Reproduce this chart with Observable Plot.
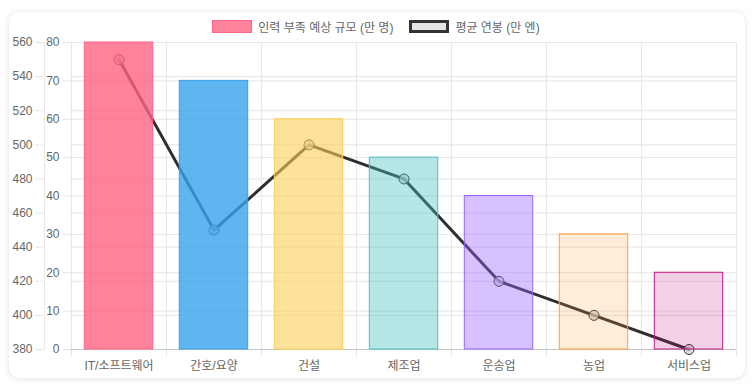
<!DOCTYPE html>
<html>
<head>
<meta charset="utf-8">
<script src="https://cdn.jsdelivr.net/npm/d3@7"></script>
<script src="https://cdn.jsdelivr.net/npm/@observablehq/plot@0.6"></script>
<style>
  html, body { margin: 0; padding: 0; background: #ffffff; }
  body { width: 752px; height: 392px; position: relative; overflow: hidden;
         font-family: "Helvetica Neue", Helvetica, Arial, "Noto Sans CJK KR", sans-serif; }
  #card { position: absolute; left: 9px; top: 12px; width: 736px; height: 366px;
          background: #fff; border-radius: 10px; box-shadow: 0 1px 6px rgba(0,0,0,0.13); }
  #legend { position: absolute; left: 0; top: 19px; width: 752px; height: 14px;
            display: flex; justify-content: center; align-items: center; gap: 16px;
            font-size: 12px; color: #666; }
  .item { display: flex; align-items: center; gap: 6px; white-space: nowrap; }
  .box { box-sizing: border-box; width: 40px; height: 13px; }
  #chart { position: absolute; left: 0; top: 36px; }
</style>
</head>
<body>
<div id="card"></div>
<div id="legend"></div>
<div id="chart"></div>
<script>
// ---- data ----
const categories = ["IT/소프트웨어", "간호/요양", "건설", "제조업", "운송업", "농업", "서비스업"];
const shortage = [80, 70, 60, 50, 40, 30, 20];          // 인력 부족 예상 규모 (만 명)
const salary = [550, 450, 500, 480, 420, 400, 380];     // 평균 연봉 (만 엔)
const shortageTicks = [0, 10, 20, 30, 40, 50, 60, 70, 80];
const salaryTicks = [380, 400, 420, 440, 460, 480, 500, 520, 540, 560];
const seriesNames = ["인력 부족 예상 규모 (만 명)", "평균 연봉 (만 엔)"];

// ---- palette ----
const barRGB = [[255,99,132],[54,162,235],[255,206,86],[75,192,192],[153,102,255],[255,159,64],[199,21,133]];
const barAlpha = [0.8, 0.8, 0.6, 0.4, 0.4, 0.2, 0.2];

const rows = categories.map((c, i) => ({
  cat: c, shortage: shortage[i], salary: salary[i],
  fill: `rgba(${barRGB[i].join(",")},${barAlpha[i]})`,
  stroke: `rgb(${barRGB[i].join(",")})`
}));

// map the salary axis [380,560] onto the shortage axis [0,80]
const sMin = salaryTicks[0], sMax = salaryTicks[salaryTicks.length - 1];
const yMax = shortageTicks[shortageTicks.length - 1];
const toY = v => (v - sMin) / (sMax - sMin) * yMax;
const fromY = y => sMin + y / yMax * (sMax - sMin);

const W = 752, H = 340, mL = 70, mR = 16, mT = 6, mB = 27;
const bw = (W - mL - mR) / categories.length;
const grid = "#e5e5e5";
const font = `"Helvetica Neue", Helvetica, Arial, "Noto Sans CJK KR", sans-serif`;

// ---- legend ----
const legend = document.getElementById("legend");
legend.innerHTML = `
  <div class="item"><div class="box" style="background:rgba(255,99,132,0.8);border:1px solid rgb(255,99,132)"></div><span>${seriesNames[0]}</span></div>
  <div class="item"><div class="box" style="background:#e4e4e4;border:3px solid #333"></div><span>${seriesNames[1]}</span></div>`;

// ---- chart ----
const chart = Plot.plot({
  width: W, height: H,
  marginLeft: mL, marginRight: mR, marginTop: mT, marginBottom: mB,
  style: { fontFamily: font, fontSize: "12px", color: "#666", background: "transparent" },
  x: { type: "band", domain: categories, padding: 0, label: null },
  y: { domain: [0, yMax], label: null },
  marks: [
    // horizontal grid (both scales)
    Plot.ruleY(salaryTicks, { y: d => toY(d), stroke: grid }),
    Plot.ruleY(shortageTicks, { y: d => d, stroke: grid }),
    // vertical grid at band boundaries (with ticks below)
    Plot.ruleX(categories, { x: d => d, dx: -bw / 2, insetBottom: -7, stroke: grid }),
    Plot.ruleX(categories.slice(-1), { x: d => d, dx: bw / 2, insetBottom: -7, stroke: grid }),
    // outer axis line
    Plot.ruleX(categories.slice(0, 1), { x: d => d, dx: -bw / 2 - 27, stroke: grid }),
    // bottom axis line
    Plot.ruleY([0], { stroke: "#c4c4c4" }),
    // axes
    Plot.axisY(salaryTicks.map(toY), {
      anchor: "left", dx: -27, tickSize: 8, tickPadding: 3, label: null,
      tickFormat: d => String(Math.round(fromY(d))), stroke: grid, fill: "#666", fontSize: 12
    }),
    Plot.axisY(shortageTicks, {
      anchor: "left", tickSize: 7, tickPadding: 4, label: null, stroke: grid, fill: "#666", fontSize: 12
    }),
    Plot.axisX({ tickSize: 0, tickPadding: 12, label: null, fill: "#666", fontSize: 12 }),
    // salary line + points
    Plot.line(rows, { x: "cat", y: d => toY(d.salary), stroke: "#2e2e2e", strokeWidth: 3 }),
    Plot.dot(rows, { x: "cat", y: d => toY(d.salary), r: 5, fill: "rgba(205,205,205,0.7)", stroke: "#333", strokeWidth: 1 }),
    // shortage bars (drawn over the line)
    Plot.barY(rows, {
      x: "cat", y: "shortage", fill: "fill", stroke: "stroke", strokeWidth: 1,
      insetLeft: 13.3, insetRight: 13.3
    })
  ]
});
document.getElementById("chart").appendChild(chart);
</script>
</body>
</html>
